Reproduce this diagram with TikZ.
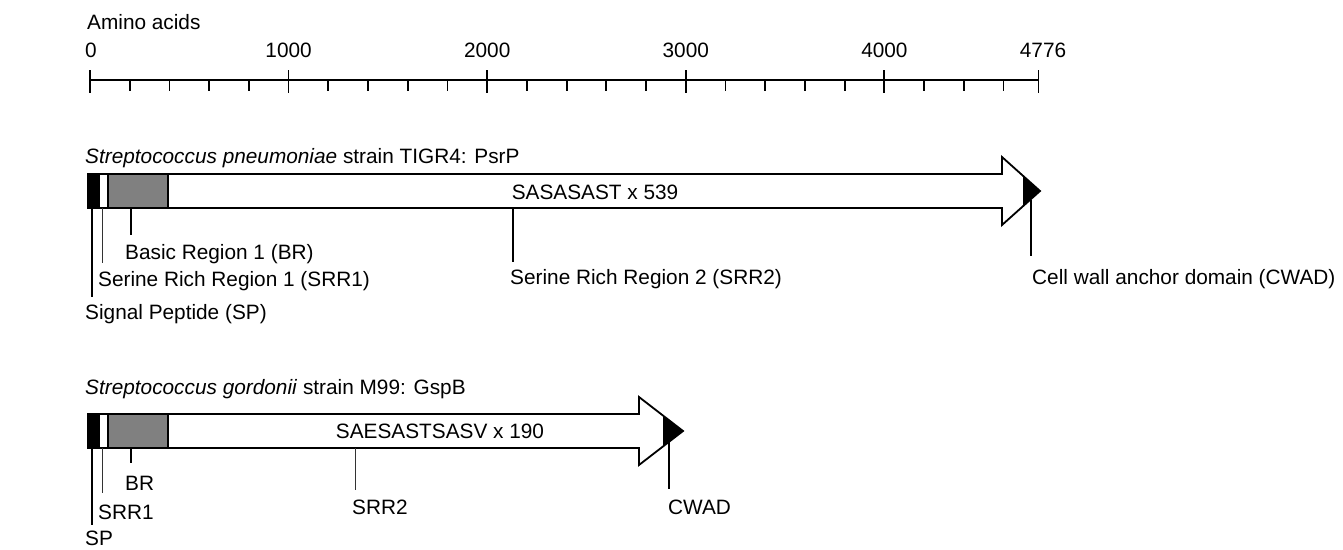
\documentclass[tikz,border=0pt]{standalone}
\usepackage{fontspec}
\setmainfont{Liberation Sans}
\begin{document}
\begin{tikzpicture}[x=1pt,y=-1pt,
  lbl/.style={inner sep=0pt, anchor=base west, font=\fontsize{20.8}{24}\selectfont},
  num/.style={inner sep=0pt, anchor=base, font=\fontsize{20.8}{24}\selectfont},
  mid/.style={inner sep=0pt, anchor=base, font=\fontsize{20.8}{24}\selectfont},
  axisline/.style={line width=1.8pt},
  outline/.style={line width=1.8pt, line join=miter},
  lead/.style={line width=1.3pt},
  thinlead/.style={line width=0.9pt, black!80}]
\useasboundingbox (0,0) rectangle (1343,549);

% ---------- scale ----------
\node[lbl] (aa) at (87,29) {Amino acids};
\draw[axisline] (90,80) -- (1038.5,80);
\foreach \v in {200,400,...,4600} \draw[axisline] ({90+\v*0.1986},80) -- ({90+\v*0.1986},91);
\foreach \v in {0,1000,2000,3000,4000,4776} \draw[axisline] ({90+\v*0.1986},70) -- ({90+\v*0.1986},93);
\node[num] (t0) at (91,57) {0};
\node[num] (t1) at (288.6,57) {1000};
\node[num] (t2) at (487.2,57) {2000};
\node[num] (t3) at (685.8,57) {3000};
\node[num] (t4) at (884.4,57) {4000};
\node[num] (t5) at (1043,57) {4776};

% ---------- PsrP ----------
\node[lbl] (ttl1) at (85,163) {\textit{Streptococcus pneumoniae} strain TIGR4: PsrP};
\draw[outline, fill=white] (88,174) -- (1002,174) -- (1002,157) -- (1040,191) -- (1002,225) -- (1002,208) -- (88,208) -- cycle;
\fill (1023,176) -- (1040,191) -- (1023,206) -- cycle;
\draw[outline, fill=black] (88,174) rectangle (99,208);
\draw[outline, fill=black!50] (108,174) rectangle (168,208);
\node[mid] (rep1) at (595,199) {SASASAST x 539};

\coordinate (sp1a) at (92,208);   \coordinate (sp1b) at (92,297);
\coordinate (sr1a) at (102,208);  \coordinate (sr1b) at (102,263);
\coordinate (br1a) at (131,208);  \coordinate (br1b) at (131,235);
\coordinate (s21a) at (513,208);  \coordinate (s21b) at (513,262);
\coordinate (cw1a) at (1031,200); \coordinate (cw1b) at (1031,256);
\draw[lead] (sp1a) -- (sp1b);
\draw[thinlead] (sr1a) -- (sr1b);
\draw[lead] (br1a) -- (br1b);
\draw[lead] (s21a) -- (s21b);
\draw[lead] (cw1a) -- (cw1b);
\node[lbl] (br1) at (125,259) {Basic Region 1 (BR)};
\node[lbl] (sr1) at (98,286) {Serine Rich Region 1 (SRR1)};
\node[lbl] (sp1) at (85,319) {Signal Peptide (SP)};
\node[lbl] (s21) at (510,284) {Serine Rich Region 2 (SRR2)};
\node[lbl] (cw1) at (1032,284) {Cell wall anchor domain (CWAD)};

% ---------- GspB ----------
\node[lbl] (ttl2) at (85,394) {\textit{Streptococcus gordonii} strain M99: GspB};
\draw[outline, fill=white] (88,414) -- (639,414) -- (639,397) -- (683,431) -- (639,465) -- (639,448) -- (88,448) -- cycle;
\fill (663,416) -- (683,431) -- (663,446) -- cycle;
\draw[outline, fill=black] (88,414) rectangle (99,448);
\draw[outline, fill=black!50] (108,414) rectangle (168,448);
\node[mid] (rep2) at (440,438) {SAESASTSASV x 190};

\coordinate (sp2a) at (92,448);   \coordinate (sp2b) at (92,525);
\coordinate (sr2a) at (102,448);  \coordinate (sr2b) at (102,493);
\coordinate (br2a) at (131,448);  \coordinate (br2b) at (131,463);
\coordinate (s22a) at (355,448);  \coordinate (s22b) at (355,490);
\coordinate (cw2a) at (669,440);  \coordinate (cw2b) at (669,489);
\draw[lead] (sp2a) -- (sp2b);
\draw[thinlead] (sr2a) -- (sr2b);
\draw[lead] (br2a) -- (br2b);
\draw[thinlead] (s22a) -- (s22b);
\draw[lead] (cw2a) -- (cw2b);
\node[lbl] (br2) at (125,490) {BR};
\node[lbl] (sr2) at (98,519) {SRR1};
\node[lbl] (sp2) at (85,545) {SP};
\node[lbl] (s22) at (352,514) {SRR2};
\node[lbl] (cw2) at (668,514) {CWAD};
\end{tikzpicture}
\end{document}
